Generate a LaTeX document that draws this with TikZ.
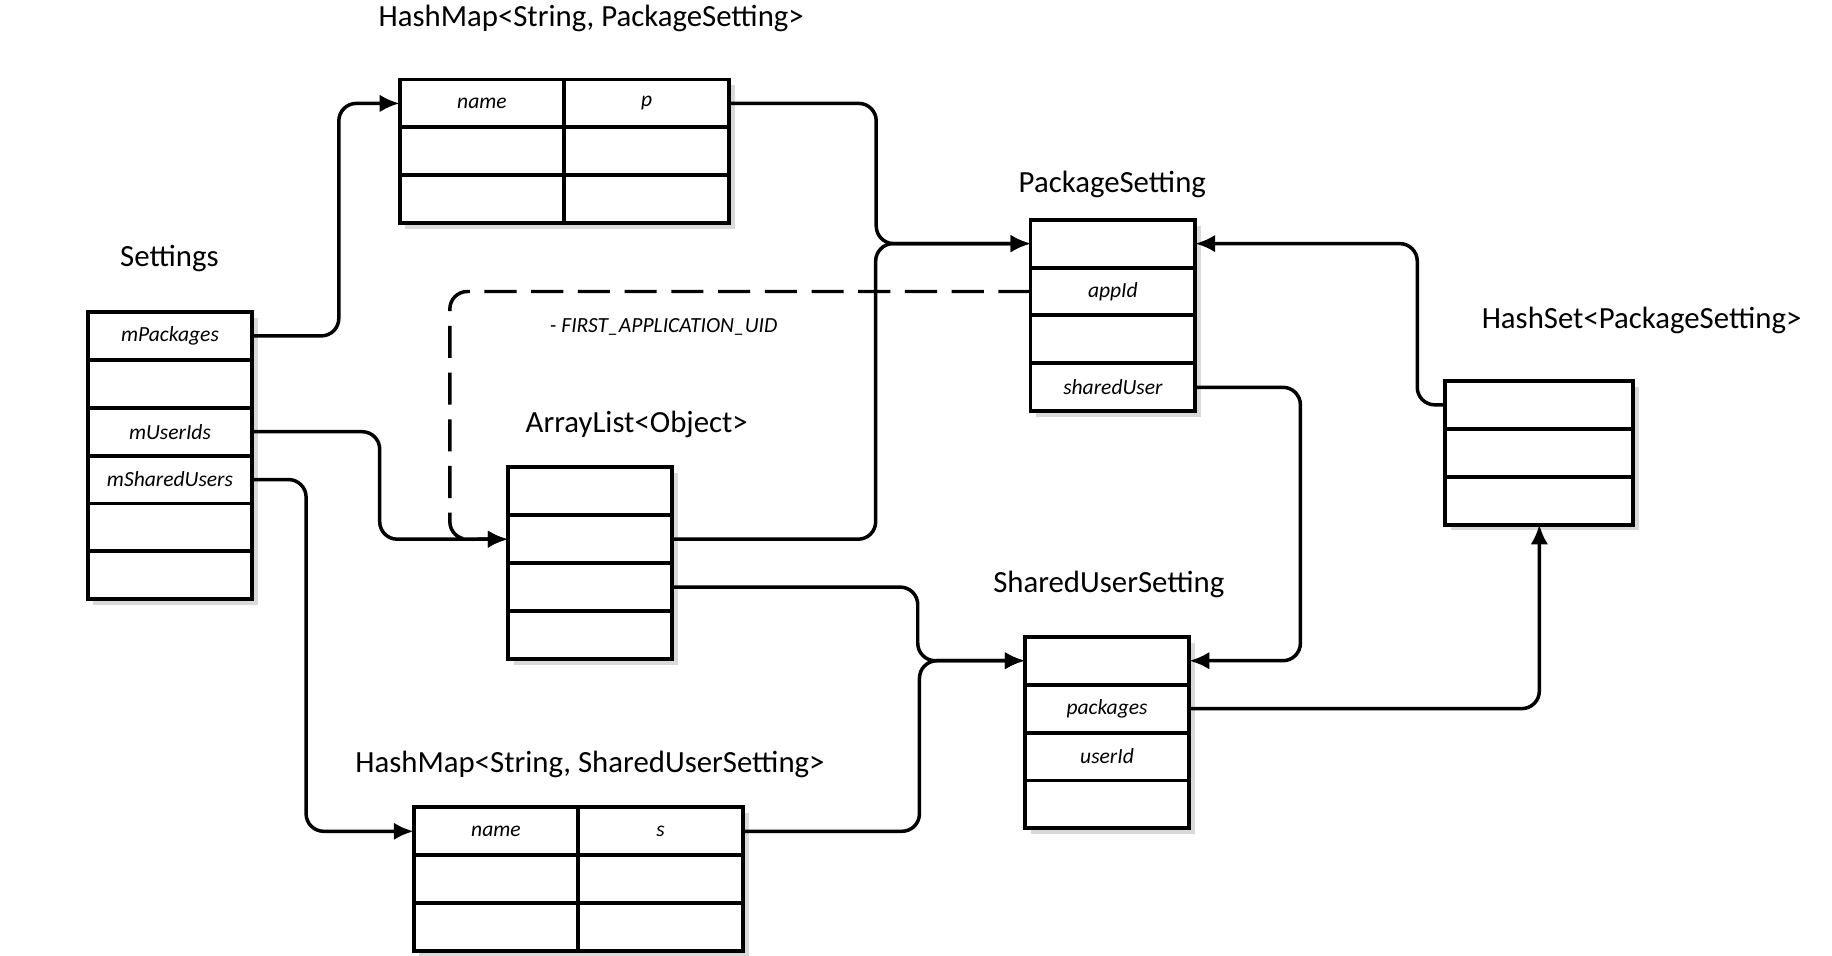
\documentclass[tikz,border=0pt]{standalone}
\usepackage{fontspec}
\setmainfont{Carlito}
\usetikzlibrary{positioning,arrows.meta,shadows}

\tikzset{
  cell/.style={rectangle, draw, fill=white, line width=1.9pt, minimum width=2.82cm, minimum height=0.82cm,
    inner sep=0pt, outer sep=0pt, font=\fontsize{10.5}{12}\selectfont\itshape,
    drop shadow={shadow xshift=0.1cm, shadow yshift=-0.1cm, opacity=0.3}},
  widecell/.style={cell, minimum width=3.22cm},
  title/.style={font=\fontsize{15}{17}\selectfont},
  link/.style={line width=1.7pt, rounded corners=0.3cm, -{Latex[length=0.34cm, width=0.3cm]}},
}

\begin{document}
\begin{tikzpicture}[x=0.02cm, y=-0.02cm]
    \useasboundingbox (0,0) rectangle (1568,818);

    % Settings
    \node[title] (settingsT) at (145,221) {Settings};
    \node[cell] (set1) at (145.5,287.5) {mPackages};
    \node[cell, below=0pt of set1] (set2) {};
    \node[cell, below=0pt of set2] (set3) {mUserIds};
    \node[cell, below=0pt of set3] (set4) {mSharedUsers};
    \node[cell, below=0pt of set4] (set5) {};
    \node[cell, below=0pt of set5] (set6) {};

    % HashMap of packages
    \node[title] (hmpT) at (506,16) {HashMap<String, PackageSetting>};
    \node[cell] (hmpname) at (412.5,88.5) {name};
    \node[cell, right=0pt of hmpname] (hmpp) {p};
    \node[cell, below=0pt of hmpname] (hmp2a) {};
    \node[cell, below=0pt of hmpp] (hmp2b) {};
    \node[cell, below=0pt of hmp2a] (hmp3a) {};
    \node[cell, below=0pt of hmp2b] (hmp3b) {};

    % PackageSetting
    \node[title] (pkgT) at (952,158) {PackageSetting};
    \node[cell] (pkg1) at (952.5,208.5) {};
    \node[cell, below=0pt of pkg1] (pkg2) {appId};
    \node[cell, below=0pt of pkg2] (pkg3) {};
    \node[cell, below=0pt of pkg3] (pkg4) {sharedUser};

    % HashSet
    \node[title] (hsetT) at (1405,274) {HashSet<PackageSetting>};
    \node[widecell] (hset1) at (1317.5,346.5) {};
    \node[widecell, below=0pt of hset1] (hset2) {};
    \node[widecell, below=0pt of hset2] (hset3) {};

    % ArrayList
    \node[title] (arrT) at (545,363) {ArrayList<Object>};
    \node[cell] (arr1) at (505,420.5) {};
    \node[cell, below=0pt of arr1] (arr2) {};
    \node[cell, below=0pt of arr2] (arr3) {};
    \node[cell, below=0pt of arr3] (arr4) {};

    % SharedUserSetting
    \node[title] (susT) at (949,500) {SharedUserSetting};
    \node[cell] (sus1) at (947.5,565.5) {};
    \node[cell, below=0pt of sus1] (sus2) {packages};
    \node[cell, below=0pt of sus2] (sus3) {userId};
    \node[cell, below=0pt of sus3] (sus4) {};

    % HashMap of shared users
    \node[title] (hmsT) at (505,654) {HashMap<String, SharedUserSetting>};
    \node[cell] (hmsname) at (424.5,711.5) {name};
    \node[cell, right=0pt of hmsname] (hmss) {s};
    \node[cell, below=0pt of hmsname] (hms2a) {};
    \node[cell, below=0pt of hmss] (hms2b) {};
    \node[cell, below=0pt of hms2a] (hms3a) {};
    \node[cell, below=0pt of hms2b] (hms3b) {};

    % Connections
    \draw[link] (set1.east) -- ++(74,0) |- (hmpname.west);
    \draw[link] (hmpp.east) -- ++(126,0) |- (pkg1.west);
    \draw[link] (arr2.east) -- ++(174,0) |- (pkg1.west);
    \draw[link] (set3.east) -- ++(109,0) |- (arr2.west);
    \draw[link] (set4.east) -- ++(46,0) |- (hmsname.west);
    \draw[link] (hmss.east) -- ++(151,0) |- (sus1.west);
    \draw[link] (arr3.east) -- ++(210,0) |- (sus1.west);
    \draw[link] (pkg4.east) -- ++(90,0) |- (sus1.east);
    \draw[link] (sus2.east) -| (hset3.south);
    \draw[link] (hset1.west) -- ++(-24,0) |- (pkg1.east);

    % appId link
    \draw[link, dash pattern=on 0.55cm off 0.25cm] (pkg2.west) -- ++(-497,0) |- (arr2.west);
    \node[font=\fontsize{10.5}{12}\selectfont\itshape] (uid) at (568,280) {- FIRST\_APPLICATION\_UID};
\end{tikzpicture}
\end{document}
